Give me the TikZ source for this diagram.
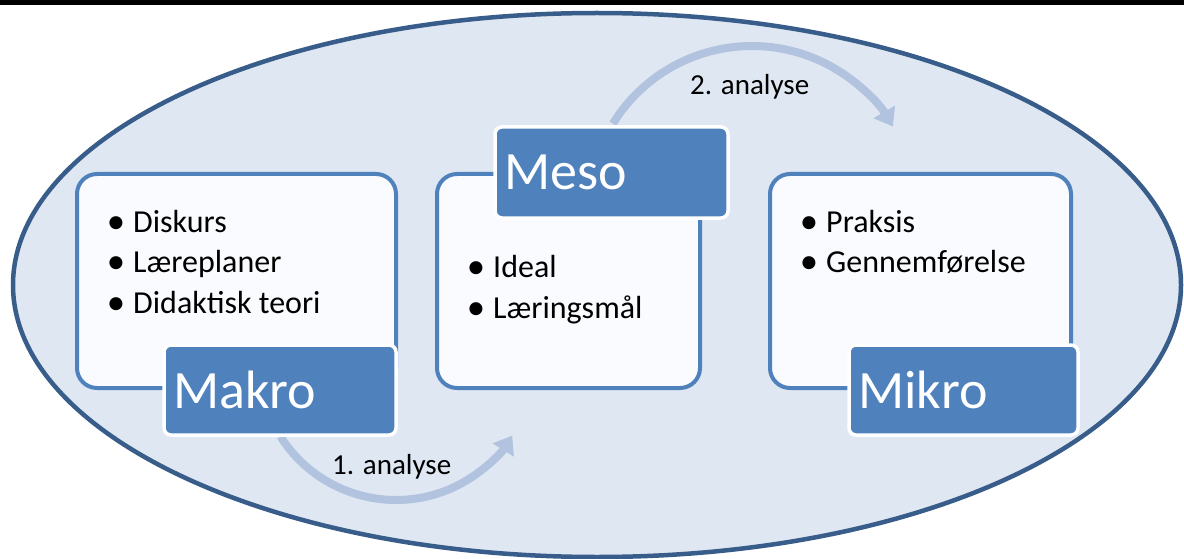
\documentclass[tikz,border=0pt]{standalone}
\usepackage{fontspec}
\usepackage{graphicx}
\setmainfont{Carlito}
\usetikzlibrary{arrows.meta}
\definecolor{ovalfill}{HTML}{DFE8F2}
\definecolor{ovalline}{HTML}{385D8A}
\definecolor{boxfill}{HTML}{F9FBFE}
\definecolor{boxline}{HTML}{4F81BD}
\definecolor{arrowblue}{HTML}{B1C3DF}
\newcommand{\itembullet}{\llap{\raisebox{-1.5pt}{\scalebox{1.15}{\textbullet}}\hspace{8pt}}}
\begin{document}
\begin{tikzpicture}[x=1pt,y=-1pt,
  oval/.style={draw=ovalline,fill=ovalfill,line width=4.5pt},
  levelbox/.style={draw=boxline,fill=boxfill,line width=4pt,rounded corners=20pt,minimum height=214pt},
  levellabel/.style={draw=white,fill=boxline,line width=3.5pt,rounded corners=7pt,minimum height=90pt,
    inner xsep=9pt,inner ysep=0pt,text=white,align=left,font=\fontsize{54}{62}\selectfont},
  item/.style={anchor=base west,inner sep=0pt,font=\fontsize{32}{38}\selectfont},
  analysearrow/.style={draw=arrowblue,line width=8pt,-{Triangle[width=24pt,length=17pt]}},
  analysetext/.style={anchor=base west,inner sep=0pt,font=\fontsize{29}{35}\selectfont}]
\useasboundingbox (0,0) rectangle (1184,559);

\fill[black] (0,0) rectangle (1184,5); %top rule
\draw[oval] (597,285) ellipse [x radius=584, y radius=272]; %background

% analysis arrows
\coordinate (makroout) at (280.5,436.6);
\coordinate (mesoout) at (612.9,123.6);
\draw[analysearrow] (makroout) arc[start angle=147.5, end angle=32, radius=137];
\draw[analysearrow] (mesoout) arc[start angle=211.7, end angle=329.5, radius=163.5];

% level boxes
\node[levelbox,minimum width=319pt] (makrobox) at (236.5,281) {};
\node[levelbox,minimum width=263pt] (mesobox) at (568.5,281) {};
\node[levelbox,minimum width=301pt] (mikrobox) at (920.5,281) {};

\node[levellabel,minimum width=232pt,text width=214pt] (makrolabel) at (280,390) {Makro};
\node[levellabel,minimum width=233pt,minimum height=91pt,text width=215pt] (mesolabel) at (611.5,172.5) {Meso};
\node[levellabel,minimum width=229pt,text width=211pt] (mikrolabel) at (963.5,390) {Mikro};

% bullet points
\node[item] (diskurs) at (133,232) {\itembullet Diskurs};
\node[item] (laereplaner) at (133,272.5) {\itembullet Læreplaner};
\node[item] (didaktik) at (133,313) {\itembullet Didaktisk teori};

\node[item] (ideal) at (493,277) {\itembullet Ideal};
\node[item] (laeringsmaal) at (493,318) {\itembullet Læringsmål};

\node[item] (praksis) at (826,232) {\itembullet Praksis};
\node[item] (gennemfoerelse) at (826,272) {\itembullet Gennemførelse};

\node[analysetext] (analyse1) at (332,474) {1. analyse};
\node[analysetext] (analyse2) at (690,95) {2. analyse};
\end{tikzpicture}
\end{document}
